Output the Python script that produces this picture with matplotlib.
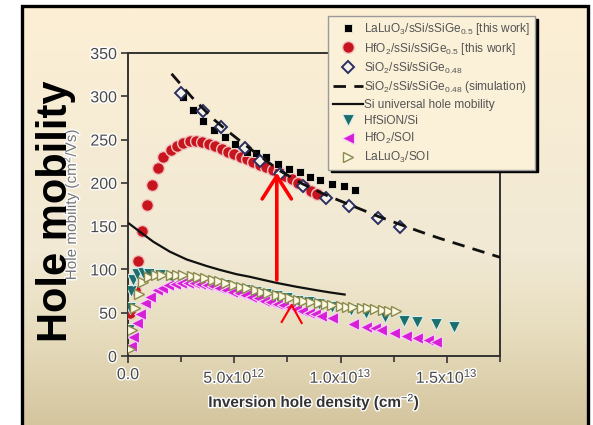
import numpy as np
import matplotlib
matplotlib.use("Agg")
import matplotlib.pyplot as plt
from matplotlib.patches import FancyArrowPatch
from matplotlib import patheffects as pe

plt.rcParams['font.family'] = ['Liberation Sans', 'DejaVu Sans']
plt.rcParams['mathtext.fontset'] = 'custom'
plt.rcParams['mathtext.rm'] = 'Liberation Sans'
plt.rcParams['mathtext.it'] = 'Liberation Sans:italic'
plt.rcParams['mathtext.bf'] = 'Liberation Sans:bold'

# inversion hole density is stored in units of 1e12 cm^-2
DENSITY_UNIT = 1e12

lalu_sge_x = [2.57, 3.05, 3.54, 4.06, 4.58, 5.03, 5.60, 6.04, 6.51, 7.06, 7.58,
              8.08, 8.57, 9.04, 9.61, 10.15, 10.67]
lalu_sge_y = [299, 284, 272, 261, 253, 245, 236, 234, 230, 222, 216,
              212, 207, 203, 199, 196, 192]

hfo2_sge_x = [0.09, 0.33, 0.47, 0.68, 0.89, 1.15, 1.41, 1.66, 2.0, 2.3, 2.6, 2.9,
              3.2, 3.5, 3.8, 4.1, 4.4, 4.7, 5.0, 5.3, 5.6, 5.9, 6.2, 6.5, 6.8,
              7.1, 7.4, 7.7, 8.0, 8.3, 8.6, 8.9]
hfo2_sge_y = [50, 76, 110, 144, 175, 198, 217, 230, 238, 243, 246, 248,
              248, 247, 245, 242, 239, 236, 233, 230, 227, 224, 221, 218, 215,
              212, 208, 204, 200, 196, 191, 187]

sio2_sge_x = [2.51, 3.54, 4.38, 5.51, 6.20, 7.14, 8.23, 9.33, 10.38, 11.75, 12.79]
sio2_sge_y = [304, 283, 264, 240, 225, 210, 196, 182, 173, 159, 149]

sim_x = [2.05, 3.0, 4.05, 4.63, 5.5, 6.2, 7.14, 8.2, 9.3, 10.4, 11.8, 12.8,
         13.7, 14.65, 16.2, 17.5]
sim_y = [326, 299, 273, 261, 244, 231, 214, 199, 186, 175, 161, 152,
         144, 136, 124, 114]

univ_x = [0.05, 0.56, 1.19, 1.97, 2.76, 3.69, 4.32, 5.10, 5.73, 6.35, 6.98,
          7.92, 8.86, 9.48, 10.19]
univ_y = [153, 143.5, 132, 120.5, 111.5, 104, 99.5, 94.5, 91.5, 88, 84.5,
          80, 76, 73.5, 71]

hfsion_x = [0.05, 0.10, 0.15, 0.25, 0.40, 0.70, 1.0, 1.5, 2.0, 2.5, 3.0, 3.5,
            4.0, 4.5, 5.0, 5.5, 6.0, 6.5, 7.0, 7.5, 8.0, 8.5, 9.0, 9.6, 10.5,
            11.2, 12.1, 13.0, 13.6, 14.5, 15.35]
hfsion_y = [30, 55, 75, 88, 95, 96, 95, 93, 91, 89.5, 88, 86,
            84, 81.5, 79, 76.5, 74, 71.5, 69, 66.5, 64, 62, 60, 57, 53,
            50, 44.5, 41, 39, 37, 33.5]

hfo2_soi_x = [0.15, 0.25, 0.4, 0.55, 0.8, 1.03, 1.35, 1.6, 1.9, 2.2, 2.5, 2.8,
              3.1, 3.4, 3.7, 4.0, 4.3, 4.6, 4.9, 5.2, 5.5, 5.8, 6.1, 6.4, 6.7,
              7.0, 7.3, 7.6, 7.9, 8.2, 8.5, 8.8, 9.1, 9.6, 10.6, 11.2, 11.6,
              11.9, 12.5, 13.1, 13.6, 14.1, 14.5]
hfo2_soi_y = [11, 22, 38, 49, 61, 68.5, 76, 79, 82, 83.5, 84, 84.5,
              84, 83, 82, 80.5, 78.5, 76.5, 74.5, 72.5, 70.5, 68.5, 66.5, 64, 62,
              60.5, 58.5, 56.5, 54, 52, 50, 48, 46, 43.5, 37.5, 34, 32,
              30, 27, 23.5, 21, 18.5, 16.5]

lalu_soi_x = [0.10, 0.20, 0.35, 0.50, 0.70, 1.0, 1.3, 1.6, 2.0, 2.3, 2.6, 3.0,
              3.3, 3.6, 4.0, 4.3, 4.6, 5.0, 5.3, 5.6, 6.0, 6.3, 6.6, 7.0, 7.3,
              7.6, 8.0, 8.3, 8.6, 9.0, 9.3, 9.6, 10.0, 10.3, 10.6, 11.0, 11.3,
              11.6, 12.0, 12.3, 12.6]
lalu_soi_y = [8, 30, 55, 72, 85, 91, 93, 93.5, 94, 93.5, 93, 92,
              91, 90, 88, 86.5, 84.5, 82, 80, 78, 76, 74, 72.5, 70.5, 69,
              67, 65, 63.5, 62.5, 61, 59.5, 58.5, 57.5, 57, 56.5, 55.5, 55,
              54.5, 53.5, 52.5, 51.5]

x_ticks = [0, 5, 10, 15]
x_tick_labels = ['0.0', '5.0x10$^{12}$', '1.0x10$^{13}$', '1.5x10$^{13}$']
y_ticks = [0, 50, 100, 150, 200, 250, 300, 350]

# mobility gain: arrow from the universal curve up to the HfO2 data at 7e12
gain_x = 7.0
gain_from = 84.5
gain_to = 215
caret_x = [7.23, 7.70, 8.17]
caret_y = [39.3, 58.9, 38.1]

W, H = 593, 425
fig = plt.figure(figsize=(W / 100, H / 100), dpi=100)

# framed cream gradient background
bg = fig.add_axes([0, 0, 1, 1], zorder=-10)
bg.set_xlim(0, W)
bg.set_ylim(H, 0)
bg.axis('off')
rows = np.arange(H)
stops_y = [6, 250, 330, 425]
stops_c = np.array([[252, 239, 212], [241, 233, 212], [231, 221, 190], [212, 197, 158]]) / 255
grad = np.stack([np.interp(rows, stops_y, stops_c[:, k]) for k in range(3)], axis=1)
grad = np.repeat(grad[:, None, :], 2, axis=1)
bg.imshow(grad, extent=(22, 588, H, 6), aspect='auto', interpolation='bilinear')
bg.plot([22, 22, 588, 588], [H + 5, 6, 6, H + 5], color='black', lw=2.4,
        solid_joinstyle='miter')

ax = fig.add_axes([128 / W, 1 - 356 / H, 372 / W, 303 / H])
ax.patch.set_alpha(0)

def sx(vals):
    return np.asarray(vals) * DENSITY_UNIT

ax.plot(sx(lalu_sge_x), lalu_sge_y, ls='none', marker='s', ms=6.4, mfc='black',
        mec='#f5eedd', mew=0.6, label='LaLuO$_3$/sSi/sSiGe$_{0.5}$ [this work]', zorder=4)
ax.plot(sx(hfo2_sge_x), hfo2_sge_y, ls='none', marker='o', ms=8.5, mfc='#c8141c',
        mec='#f0c2c2', mew=1.0, label='HfO$_2$/sSi/sSiGe$_{0.5}$ [this work]', zorder=3)
ax.plot(sx(sio2_sge_x), sio2_sge_y, ls='none', marker='D', ms=5.8, mfc='#f6f2ea',
        mec='#2b2e60', mew=1.4, label='SiO$_2$/sSi/sSiGe$_{0.48}$', zorder=5)
ax.plot(sx(sim_x), sim_y, color='#111111', lw=2.0, ls=(0, (4.5, 3.0)),
        label='SiO$_2$/sSi/sSiGe$_{0.48}$ (simulation)', zorder=6)
ax.plot(sx(univ_x), univ_y, color='#111111', lw=1.6,
        label='Si universal hole mobility', zorder=6)
ax.plot(sx(hfsion_x), hfsion_y, ls='none', marker='v', ms=8.5, mfc='#1d6f6c',
        mec='#dceeee', mew=0.8, label='HfSiON/Si', zorder=3)
ax.plot(sx(hfo2_soi_x), hfo2_soi_y, ls='none', marker='<', ms=8.5, mfc='#d81fd8',
        mec='#f6d6f6', mew=0.8, label='HfO$_2$/SOI', zorder=3)
ax.plot(sx(lalu_soi_x), lalu_soi_y, ls='none', marker='>', ms=7.5, mfc='#fbf8e4',
        mec='#8c8a4c', mew=1.0, label='LaLuO$_3$/SOI', zorder=4)

arrow = FancyArrowPatch((gain_x * DENSITY_UNIT, gain_from), (gain_x * DENSITY_UNIT, gain_to),
                        arrowstyle='->,head_length=0.55,head_width=0.35',
                        mutation_scale=30, color='#ff0000', lw=2.6, zorder=8)
ax.add_patch(arrow)
ax.plot(sx(caret_x), caret_y, color='#ff0000', lw=1.5, zorder=8)

ax.set_xlim(0, 17.5 * DENSITY_UNIT)
ax.set_ylim(0, 350)
ax.set_xticks(sx(x_ticks))
ax.set_xticklabels(x_tick_labels)
ax.set_xticks(sx(np.arange(2.5, 17.6, 5.0)), minor=True)
ax.set_yticks(y_ticks)

halo = [pe.withStroke(linewidth=2, foreground='#ffffff')]
ax.tick_params(axis='both', which='major', direction='out', length=5, width=1.2,
               color='#333333', labelsize=11.5, labelcolor='#4a4a4a', pad=3)
ax.tick_params(axis='x', which='minor', direction='out', length=4, width=1.2,
               color='#333333')
for lab in ax.get_xticklabels() + ax.get_yticklabels():
    lab.set_path_effects(halo)
for sp in ax.spines.values():
    sp.set_color('#333333')
    sp.set_linewidth(1.4)

ax.set_xlabel('Inversion hole density (cm$^{-2}$)', fontsize=11, fontweight='bold',
              color='#333333', labelpad=4)
ax.set_ylabel('Hole mobility (cm$^2$/Vs)', fontsize=11, color='#777777', labelpad=6)
ax.yaxis.label.set_path_effects(halo)
ax.xaxis.label.set_path_effects(halo)

fig.text(56 / W, 1 - 211 / H, 'Hole mobility', rotation=90, fontsize=30,
         fontweight='bold', color='black', ha='center', va='center', zorder=20)

leg = ax.legend(loc='upper left', bbox_to_anchor=(328 / W, 1 - 16 / H),
                bbox_transform=fig.transFigure, borderaxespad=0, fontsize=8.6,
                frameon=True, fancybox=False, shadow={'color': 'black', 'alpha': 1.0},
                handlelength=2.5, handletextpad=0.15, labelspacing=0.32,
                borderpad=0.4, numpoints=1)
leg.get_frame().set_facecolor('#fbf0d8')
leg.get_frame().set_edgecolor('#9a9a9a')
leg.get_frame().set_linewidth(1.0)
leg.set_zorder(10)
for t in leg.get_texts():
    t.set_color('#555555')

fig.savefig('out.png', dpi=100)
